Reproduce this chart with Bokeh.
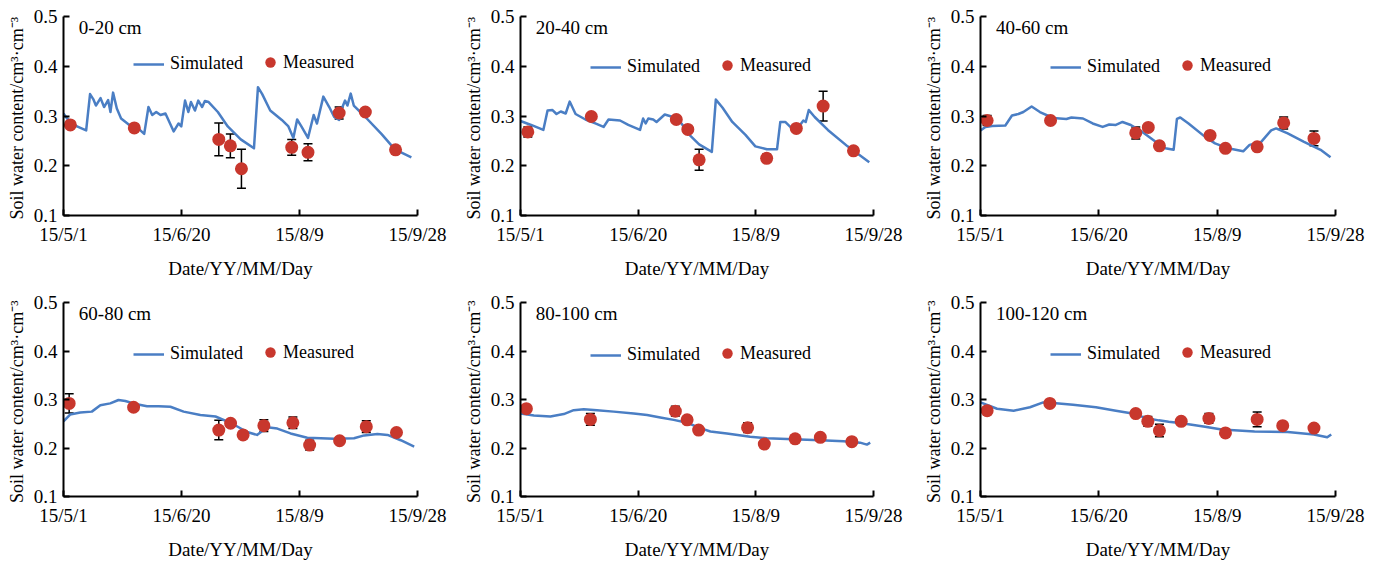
from bokeh.plotting import figure
from bokeh.models import (Range1d, FixedTicker, Label, Legend, LegendItem,
                          Whisker, TeeHead, ColumnDataSource)
from bokeh.layouts import gridplot
from bokeh.embed import file_html
from bokeh.resources import INLINE

# ---------------- data (x = days since 15/5/1) ----------------
x_ticks = [0, 50, 100, 150]
x_tick_labels = ["15/5/1", "15/6/20", "15/8/9", "15/9/28"]
y_ticks = [0.1, 0.2, 0.3, 0.4, 0.5]
y_tick_labels = ["0.1", "0.2", "0.3", "0.4", "0.5"]
depth_labels = ["0-20 cm", "20-40 cm", "40-60 cm", "60-80 cm", "80-100 cm", "100-120 cm"]

sim_days_0_20 = [0, 1.5, 5.7, 9.6, 11.25, 12.6, 13.75, 15.7, 17.2, 18.9, 19.9, 21, 22.6, 24.4,
                 27.9, 31.4, 34.2, 36, 37.6, 39.3, 41.1, 43.2, 46.7, 48.75, 49.9, 51.5, 52.9,
                 54, 55.7, 57.1, 58.75, 59.9, 61.5, 65.4, 69.6, 75.1, 80.7, 82.4, 84.2, 87.6,
                 92.5, 95.3, 97.4, 99, 100.8, 103.6, 106, 107.4, 110.1, 112.6, 114.7, 116.8,
                 118.2, 119.3, 120.3, 121.7, 123, 127.9, 134.9, 140.4, 147.4]
sim_vals_0_20 = [0.305, 0.295, 0.279, 0.271, 0.344, 0.334, 0.321, 0.336, 0.318, 0.332, 0.308,
                 0.347, 0.315, 0.295, 0.282, 0.276, 0.264, 0.318, 0.302, 0.308, 0.302, 0.305,
                 0.269, 0.285, 0.279, 0.331, 0.308, 0.328, 0.311, 0.331, 0.318, 0.330, 0.328,
                 0.308, 0.279, 0.253, 0.235, 0.358, 0.344, 0.311, 0.292, 0.279, 0.256, 0.293,
                 0.279, 0.256, 0.302, 0.285, 0.339, 0.318, 0.298, 0.292, 0.318, 0.331, 0.321,
                 0.345, 0.321, 0.298, 0.263, 0.233, 0.217]
meas_days_0_20 = [2.9, 30, 65.8, 70.7, 75.4, 96.7, 103.6, 116.8, 127.9, 140.7]
meas_vals_0_20 = [0.282, 0.276, 0.253, 0.240, 0.194, 0.237, 0.227, 0.306, 0.308, 0.232]
meas_err_0_20 = [0, 0, 0.033, 0.024, 0.039, 0.016, 0.017, 0.012, 0, 0]

sim_days_20_40 = [0, 4.5, 9.7, 11.5, 13.6, 15.3, 17.1, 19.2, 20.9, 23.4, 27.6, 31.8, 35.3, 37.4,
                  42.3, 45.8, 50.8, 52.1, 53.2, 54.3, 56.4, 57.8, 61.3, 64.1, 68.4, 71.8, 75.9,
                  81.3, 83, 85.8, 90, 95.6, 99.8, 104.7, 109, 110.4, 112.5, 115.3, 118.8, 120.2,
                  121.2, 122.5, 125, 130.6, 139, 148.2]
sim_vals_20_40 = [0.290, 0.282, 0.272, 0.311, 0.312, 0.304, 0.309, 0.305, 0.329, 0.304, 0.293,
                  0.285, 0.278, 0.293, 0.291, 0.282, 0.272, 0.295, 0.285, 0.295, 0.293, 0.288,
                  0.303, 0.299, 0.285, 0.262, 0.243, 0.228, 0.333, 0.317, 0.288, 0.262, 0.239,
                  0.233, 0.233, 0.288, 0.288, 0.275, 0.282, 0.291, 0.288, 0.312, 0.298, 0.272,
                  0.239, 0.207]
meas_days_20_40 = [3.1, 30.1, 66.2, 71.1, 75.9, 104.6, 117.2, 128.6, 141.5]
meas_vals_20_40 = [0.268, 0.299, 0.293, 0.273, 0.212, 0.215, 0.275, 0.320, 0.230]
meas_err_20_40 = [0.01, 0, 0, 0, 0.021, 0.008, 0, 0.03, 0]

sim_days_40_60 = [0, 2.1, 4.9, 10.5, 13.3, 16, 18.1, 21.6, 25.1, 30.7, 36.3, 38.4, 43.3, 47.4,
                  51.6, 54.4, 57.2, 60, 63.5, 68.4, 74, 78.1, 81.6, 83, 84.4, 87.9, 94.9, 99.1,
                  104.6, 111, 113.7, 118.6, 122.8, 124.9, 129.8, 136.7, 143.7, 147.9]
sim_vals_40_60 = [0.271, 0.278, 0.280, 0.281, 0.301, 0.304, 0.308, 0.319, 0.308, 0.296, 0.294,
                  0.297, 0.295, 0.285, 0.278, 0.283, 0.282, 0.288, 0.282, 0.268, 0.248, 0.235,
                  0.232, 0.294, 0.297, 0.285, 0.258, 0.245, 0.235, 0.229, 0.242, 0.248, 0.271,
                  0.275, 0.265, 0.248, 0.232, 0.217]
meas_days_40_60 = [2.8, 29.6, 65.6, 70.9, 75.6, 97, 103.5, 116.9, 128.1, 140.9]
meas_vals_40_60 = [0.291, 0.291, 0.266, 0.277, 0.240, 0.261, 0.235, 0.238, 0.286, 0.255]
meas_err_40_60 = [0.01, 0, 0.012, 0, 0, 0, 0, 0, 0.012, 0.015]

sim_days_60_80 = [0, 2.8, 7.1, 12, 15.6, 19.8, 23.3, 26.2, 31.1, 35.4, 40.3, 45.3, 50.9, 58,
                  64.4, 70.8, 77.8, 82, 86.3, 90.6, 96.2, 103.3, 109, 114.6, 123.1, 127.4, 133,
                  137.3, 142.9, 148.6]
sim_vals_60_80 = [0.255, 0.269, 0.273, 0.275, 0.288, 0.292, 0.299, 0.297, 0.290, 0.286, 0.286,
                  0.285, 0.275, 0.268, 0.265, 0.252, 0.233, 0.227, 0.243, 0.240, 0.230, 0.221,
                  0.220, 0.219, 0.220, 0.226, 0.229, 0.227, 0.216, 0.203]
meas_days_60_80 = [2.4, 29.7, 65.8, 70.8, 76.1, 84.9, 97.2, 104.3, 117, 128.3, 141.1]
meas_vals_60_80 = [0.292, 0.284, 0.237, 0.251, 0.227, 0.246, 0.252, 0.206, 0.215, 0.244, 0.232]
meas_err_60_80 = [0.02, 0, 0.02, 0, 0, 0.012, 0.012, 0.01, 0, 0.012, 0]

sim_days_80_100 = [0, 5.7, 12.7, 18.4, 22.6, 26.9, 32.5, 39.6, 48.1, 53.8, 59.4, 65.1, 70.8,
                   76.4, 80.7, 87.7, 97.6, 104.7, 116, 127.4, 137.3, 144.3, 147.2, 148.6]
sim_vals_80_100 = [0.271, 0.267, 0.265, 0.270, 0.278, 0.280, 0.278, 0.275, 0.271, 0.268, 0.263,
                   0.258, 0.252, 0.241, 0.234, 0.230, 0.223, 0.220, 0.218, 0.216, 0.214, 0.211,
                   0.207, 0.211]
meas_days_80_100 = [2.5, 29.7, 65.8, 70.8, 75.7, 96.5, 103.6, 116.7, 127.4, 140.8]
meas_vals_80_100 = [0.281, 0.259, 0.276, 0.258, 0.237, 0.242, 0.208, 0.219, 0.222, 0.213]
meas_err_80_100 = [0, 0.012, 0.01, 0, 0, 0.01, 0, 0, 0, 0]

sim_days_100_120 = [0, 7, 14, 20.9, 26.5, 30.7, 39.1, 48.8, 57.2, 64.2, 69.8, 75.3, 79.5, 85.1,
                    94.9, 101.9, 115.8, 129.8, 140.9, 146.5, 148.2]
sim_vals_100_120 = [0.294, 0.281, 0.277, 0.284, 0.294, 0.293, 0.289, 0.284, 0.277, 0.271, 0.262,
                    0.257, 0.254, 0.251, 0.244, 0.238, 0.234, 0.233, 0.228, 0.222, 0.228]
meas_days_100_120 = [2.8, 29.3, 65.6, 70.7, 75.6, 84.8, 96.5, 103.5, 116.9, 127.7, 140.9]
meas_vals_100_120 = [0.277, 0.292, 0.271, 0.255, 0.236, 0.255, 0.261, 0.231, 0.259, 0.246, 0.241]
meas_err_100_120 = [0, 0, 0, 0.01, 0.013, 0, 0.01, 0, 0.015, 0, 0]

# ---------------- style ----------------
FONT = "Liberation Serif"
LINE_COLOR = "#4A7EC4"
DOT_COLOR = "#C8372D"


def make_panel(title, sim_x, sim_y, mx, my, merr, w, h, left, right, top, bottom, leg_top):
    p = figure(width=w, height=h, output_backend="svg", toolbar_location=None,
               x_range=Range1d(0, 150), y_range=Range1d(0.1, 0.5),
               min_border_left=left, min_border_right=right,
               min_border_top=top, min_border_bottom=bottom)
    p.outline_line_color = None
    p.grid.visible = False
    p.background_fill_color = "white"
    p.border_fill_color = "white"

    p.xaxis.ticker = FixedTicker(ticks=x_ticks)
    p.xaxis.major_label_overrides = {t: l for t, l in zip(x_ticks, x_tick_labels)}
    p.yaxis.ticker = FixedTicker(ticks=y_ticks)
    p.yaxis.major_label_overrides = {t: l for t, l in zip(y_ticks, y_tick_labels)}
    p.xaxis.axis_label = "Date/YY/MM/Day"
    p.yaxis.axis_label = "Soil water  content/cm\u00b3\u00b7cm\u207b\u00b3"
    for ax in (p.xaxis, p.yaxis):
        ax.axis_line_color = "black"
        ax.axis_line_width = 2
        ax.major_tick_line_color = "black"
        ax.major_tick_line_width = 2
        ax.major_tick_in = 6
        ax.major_tick_out = 0
        ax.minor_tick_line_color = None
        ax.major_label_text_font = FONT
        ax.major_label_text_font_size = "19px"
        ax.major_label_text_color = "black"
        ax.axis_label_text_font = FONT
        ax.axis_label_text_font_size = "19px"
        ax.axis_label_text_font_style = "normal"
        ax.axis_label_text_color = "black"
    p.xaxis.major_label_standoff = 8
    p.xaxis.axis_label_standoff = 10
    p.yaxis.major_label_standoff = 6
    p.yaxis.axis_label_standoff = 4
    p.yaxis.axis_label_text_font_size = "18px"

    upper = [v + e for v, e in zip(my, merr)]
    lower = [v - e for v, e in zip(my, merr)]
    src = ColumnDataSource(dict(x=mx, upper=upper, lower=lower))
    wh = Whisker(source=src, base="x", upper="upper", lower="lower",
                 line_color="black", line_width=1.5, level="underlay",
                 upper_head=TeeHead(size=9, line_color="black", line_width=1.5),
                 lower_head=TeeHead(size=9, line_color="black", line_width=1.5))
    p.add_layout(wh)

    rl = p.line(sim_x, sim_y, line_color=LINE_COLOR, line_width=2.5, line_join="round")
    rs = p.scatter(mx, my, size=13, fill_color=DOT_COLOR, line_color=None)

    p.add_layout(Label(x=6.5, y=0.499, text=title, text_font=FONT, text_font_size="19px",
                       text_color="black", text_baseline="top"))

    frame_h = h - top - bottom
    center_from_bottom = frame_h - (leg_top + 7)
    common = dict(orientation="horizontal", padding=0, margin=0, border_line_color=None,
                  background_fill_alpha=0, label_text_font=FONT, label_text_font_size="18px",
                  label_text_color="black")
    leg1 = Legend(items=[LegendItem(label="Simulated", renderers=[rl])],
                  location=(70, center_from_bottom - 10), glyph_width=31, glyph_height=20,
                  label_height=20, label_standoff=6, **common)
    leg2 = Legend(items=[LegendItem(label="Measured", renderers=[rs])],
                  location=(194, center_from_bottom - 11), glyph_width=26, glyph_height=26,
                  label_height=26, label_standoff=0, **common)
    p.add_layout(leg1)
    p.add_layout(leg2)
    return p


p1 = make_panel(depth_labels[0], sim_days_0_20, sim_vals_0_20, meas_days_0_20, meas_vals_0_20,
                meas_err_0_20, 460, 281, 63, 37, 15, 61, 47)
p2 = make_panel(depth_labels[1], sim_days_20_40, sim_vals_20_40, meas_days_20_40, meas_vals_20_40,
                meas_err_20_40, 460, 281, 59, 44, 13, 63, 50)
p3 = make_panel(depth_labels[2], sim_days_40_60, sim_vals_40_60, meas_days_40_60, meas_vals_40_60,
                meas_err_40_60, 459, 281, 57, 44, 16, 63, 47)
p4 = make_panel(depth_labels[3], sim_days_60_80, sim_vals_60_80, meas_days_60_80, meas_vals_60_80,
                meas_err_60_80, 460, 281, 63, 43, 18, 59, 55)
p5 = make_panel(depth_labels[4], sim_days_80_100, sim_vals_80_100, meas_days_80_100,
                meas_vals_80_100, meas_err_80_100, 460, 281, 60, 47, 17, 60, 56)
p6 = make_panel(depth_labels[5], sim_days_100_120, sim_vals_100_120, meas_days_100_120,
                meas_vals_100_120, meas_err_100_120, 459, 281, 57, 44, 21, 59, 52)

grid = gridplot([[p1, p2, p3], [p4, p5, p6]], toolbar_location=None)

with open("out.html", "w") as f:
    f.write(file_html(grid, INLINE))
